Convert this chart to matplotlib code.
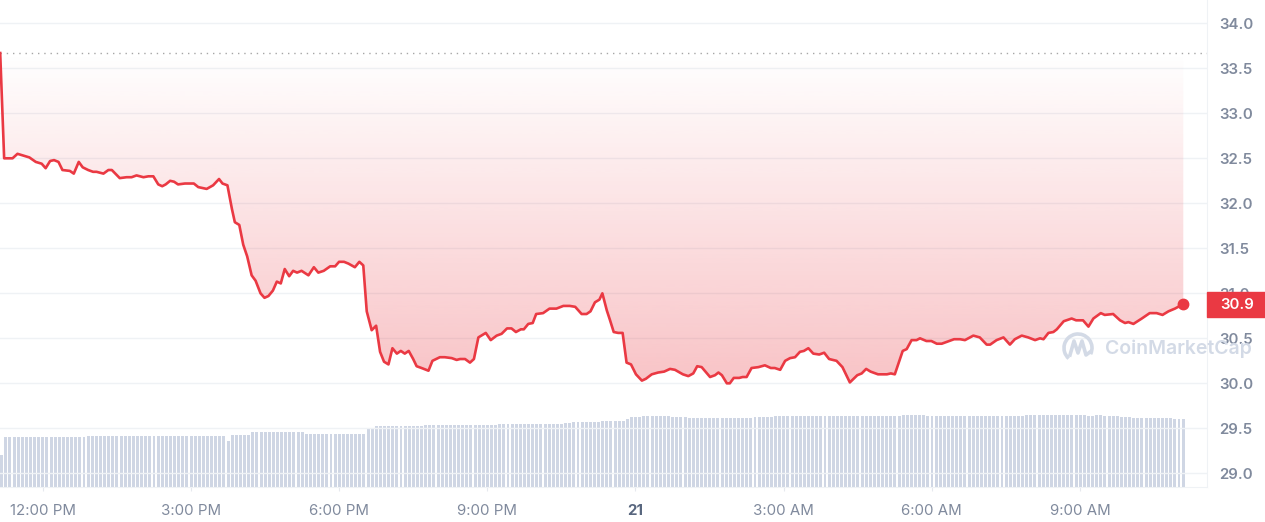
import numpy as np
import matplotlib.pyplot as plt
from matplotlib.patches import Rectangle, Arc
from matplotlib.transforms import blended_transform_factory

plt.rcParams['font.family'] = ['Inter', 'DejaVu Sans']

# price, hours after 12:00 PM on the 20th
hours = [-0.86, -0.78, -0.61, -0.51, -0.39, -0.27, -0.14, -0.02, 0.06, 0.15,
         0.23, 0.32, 0.40, 0.55, 0.63, 0.73, 0.81, 0.92, 1.02, 1.09,
         1.23, 1.33, 1.40, 1.56, 1.70, 1.80, 1.90, 2.04, 2.14, 2.24,
         2.34, 2.42, 2.49, 2.58, 2.66, 2.74, 2.88, 2.98, 3.06, 3.15,
         3.32, 3.45, 3.57, 3.64, 3.74, 3.83, 3.89, 3.98, 4.06, 4.14,
         4.23, 4.31, 4.41, 4.49, 4.57, 4.66, 4.74, 4.82, 4.90, 4.99,
         5.07, 5.15, 5.24, 5.38, 5.49, 5.58, 5.69, 5.82, 5.92, 6.00,
         6.10, 6.19, 6.32, 6.41, 6.49, 6.56, 6.66, 6.75, 6.83, 6.91,
         7.00, 7.08, 7.17, 7.25, 7.33, 7.41, 7.50, 7.57, 7.67, 7.81,
         7.89, 8.04, 8.14, 8.28, 8.38, 8.45, 8.55, 8.65, 8.73, 8.82,
         8.97, 9.07, 9.19, 9.29, 9.40, 9.49, 9.58, 9.68, 9.74, 9.83,
         9.92, 9.99, 10.13, 10.26, 10.40, 10.54, 10.67, 10.78, 10.91, 11.01,
         11.09, 11.18, 11.27, 11.33, 11.42, 11.48, 11.56, 11.65, 11.74, 11.82,
         11.91, 12.01, 12.13, 12.21, 12.33, 12.46, 12.58, 12.70, 12.80, 12.96,
         13.07, 13.17, 13.25, 13.34, 13.51, 13.61, 13.68, 13.75, 13.85, 13.91,
         13.99, 14.10, 14.17, 14.25, 14.35, 14.49, 14.62, 14.74, 14.82, 14.93,
         15.03, 15.13, 15.23, 15.33, 15.41, 15.50, 15.60, 15.72, 15.82, 15.92,
         16.07, 16.19, 16.34, 16.49, 16.58, 16.67, 16.76, 16.91, 17.09, 17.17,
         17.25, 17.41, 17.49, 17.59, 17.69, 17.76, 17.89, 17.99, 18.10, 18.20,
         18.30, 18.45, 18.57, 18.67, 18.84, 18.97, 19.11, 19.18, 19.31, 19.45,
         19.58, 19.68, 19.82, 19.95, 20.09, 20.19, 20.26, 20.36, 20.46, 20.53,
         20.67, 20.83, 20.92, 21.06, 21.17, 21.27, 21.42, 21.50, 21.67, 21.81,
         21.91, 21.98, 22.08, 22.25, 22.41, 22.55, 22.67, 22.79, 22.92, 23.09]
price = [33.67, 32.50, 32.50, 32.55, 32.53, 32.51, 32.46, 32.44, 32.39, 32.47,
         32.48, 32.46, 32.37, 32.36, 32.33, 32.46, 32.40, 32.37, 32.35, 32.35,
         32.33, 32.37, 32.37, 32.28, 32.29, 32.29, 32.31, 32.29, 32.30, 32.30,
         32.21, 32.19, 32.21, 32.25, 32.24, 32.21, 32.22, 32.22, 32.22, 32.18,
         32.16, 32.20, 32.27, 32.22, 32.20, 31.94, 31.79, 31.76, 31.54, 31.41,
         31.20, 31.14, 31.00, 30.95, 30.97, 31.03, 31.13, 31.11, 31.27, 31.19,
         31.25, 31.23, 31.25, 31.20, 31.29, 31.23, 31.25, 31.30, 31.30, 31.35,
         31.35, 31.33, 31.29, 31.35, 31.31, 30.80, 30.59, 30.64, 30.35, 30.24,
         30.21, 30.39, 30.33, 30.36, 30.33, 30.36, 30.27, 30.19, 30.17, 30.14,
         30.25, 30.29, 30.29, 30.28, 30.26, 30.27, 30.27, 30.23, 30.27, 30.51,
         30.56, 30.48, 30.53, 30.55, 30.61, 30.61, 30.57, 30.60, 30.60, 30.66,
         30.67, 30.77, 30.78, 30.83, 30.83, 30.86, 30.86, 30.85, 30.77, 30.77,
         30.80, 30.90, 30.93, 31.00, 30.81, 30.71, 30.57, 30.56, 30.56, 30.23,
         30.21, 30.10, 30.03, 30.05, 30.10, 30.12, 30.13, 30.16, 30.15, 30.10,
         30.08, 30.11, 30.19, 30.18, 30.07, 30.09, 30.12, 30.09, 30.00, 30.00,
         30.06, 30.06, 30.07, 30.07, 30.17, 30.18, 30.20, 30.17, 30.17, 30.15,
         30.25, 30.28, 30.29, 30.35, 30.36, 30.39, 30.33, 30.32, 30.34, 30.27,
         30.25, 30.18, 30.01, 30.09, 30.11, 30.16, 30.13, 30.10, 30.10, 30.11,
         30.10, 30.36, 30.38, 30.48, 30.48, 30.50, 30.47, 30.47, 30.44, 30.44,
         30.46, 30.49, 30.49, 30.48, 30.53, 30.51, 30.43, 30.43, 30.48, 30.51,
         30.43, 30.49, 30.53, 30.51, 30.48, 30.50, 30.49, 30.56, 30.57, 30.60,
         30.69, 30.72, 30.70, 30.70, 30.63, 30.72, 30.78, 30.76, 30.77, 30.70,
         30.67, 30.68, 30.66, 30.72, 30.78, 30.78, 30.76, 30.80, 30.83, 30.88]
open_price = 33.67
last_label = "30.9"

# volume per 5 min bar (relative units), as (value, number of bars)
volume_runs = [(6.4, 1), (10.0, 20), (10.2, 34), (9.2, 1), (10.5, 5), (11.0, 13),
               (10.7, 15), (11.8, 2), (12.2, 12), (12.4, 18), (12.7, 16),
               (12.8, 2), (13.0, 7), (13.3, 6), (13.7, 1), (14.0, 3), (14.2, 7),
               (14.0, 4), (13.8, 16), (14.0, 5), (14.2, 31), (14.4, 6), (14.2, 24),
               (14.5, 15), (14.2, 2), (14.4, 2), (14.2, 4), (14.0, 3), (13.8, 10),
               (13.6, 3)]
volume = []
for v, n in volume_runs:
    volume += [v] * n

tick_hours = [0, 3, 6, 9, 12, 15, 18, 21]
tick_labels = ["12:00 PM", "3:00 PM", "6:00 PM", "9:00 PM", "21", "3:00 AM", "6:00 AM", "9:00 AM"]
y_ticks = [29.0, 29.5, 30.0, 30.5, 31.0, 31.5, 32.0, 32.5, 33.0, 33.5, 34.0]

red = '#ea3943'
grey_txt = '#808a9d'
grid_c = '#eff2f5'

fig = plt.figure(figsize=(12.65, 5.22), dpi=100)
ax = fig.add_axes([0, 35 / 522, 1207 / 1265, 487 / 522])

# volume bars underneath
vax = ax.twinx()
bar_t = hours[0] + np.arange(len(volume)) / 12
vax.bar(bar_t, volume, width=0.06, align='edge', color='#cfd6e4', linewidth=0)
vax.set_ylim(0, 97.4)
vax.set_yticks([])
for s in vax.spines.values():
    s.set_visible(False)
vax.set_zorder(ax.get_zorder() - 1)
ax.patch.set_visible(False)

# gradient fill between line and open price
poly = ax.fill_between(hours, price, open_price, color='none', linewidth=0)
grad = np.zeros((256, 1, 4))
grad[:, 0, 0:3] = np.array([234, 57, 67]) / 255
grad[:, 0, 3] = np.linspace(0.31, 0.0, 256)
img = ax.imshow(grad, extent=[hours[0], hours[-1], 29.9, open_price], origin='lower',
                aspect='auto', interpolation='bicubic', zorder=1)
img.set_clip_path(poly.get_paths()[0], transform=ax.transData)

ax.axhline(open_price, color='#a6a6a6', lw=1, ls=(0, (1, 3.5)), zorder=2)
ax.plot(hours, price, color=red, lw=1.9, zorder=4, solid_joinstyle='round')
ax.plot(hours[-1], price[-1], 'o', color=red, ms=7.5, zorder=5)

ax.set_xlim(-0.864, 23.57)
ax.set_ylim(28.848, 34.259)

ax.yaxis.tick_right()
ax.set_yticks(y_ticks)
ax.set_yticklabels([f"{t:.1f}" for t in y_ticks])
ax.tick_params(axis='y', length=0, pad=9.0, labelsize=10.8, labelcolor=grey_txt)
for lab in ax.get_yticklabels():
    lab.set_fontweight('semibold')
ax.grid(axis='y', color=grid_c, lw=1, zorder=0)
ax.set_axisbelow(True)

ax.set_xticks(tick_hours)
ax.set_xticklabels(tick_labels)
ax.tick_params(axis='x', length=3, color='#e6e9ee', pad=9, labelsize=10.8, labelcolor=grey_txt)
for lab in ax.get_xticklabels():
    if lab.get_text() == "21":
        lab.set_fontweight('bold')
        lab.set_color('#58667e')

for side in ['top', 'left']:
    ax.spines[side].set_visible(False)
ax.spines['right'].set_color(grid_c)
ax.spines['bottom'].set_color(grid_c)

# price tag on the right
tr = blended_transform_factory(ax.transAxes, ax.transData)
ax.add_patch(Rectangle((1.0, price[-1] - 0.14), 58 / 1207, 0.28, transform=tr,
                       color=red, clip_on=False, zorder=6))
ax.text(1.0 + 13 / 1207, price[-1] - 0.005, last_label, transform=tr, color='white',
        fontsize=10.8, fontweight='semibold', va='center', ha='left', zorder=7)

# watermark
fig.text(1105 / 1265, 1 - 349 / 522, "CoinMarketCap", color='#d3dae6', fontsize=14,
         fontweight='semibold', va='center', ha='left', zorder=3)
fig.patches.append(Arc((1078 / 1265, 1 - 348 / 522), 28 / 1265, 28 / 522, theta1=-50, theta2=250,
                       transform=fig.transFigure, color='#d3dae6', lw=2.6))
fig.lines.append(plt.Line2D([1070 / 1265, 1074 / 1265, 1078 / 1265, 1082 / 1265, 1086 / 1265, 1090 / 1265],
                            [1 - 355 / 522, 1 - 341 / 522, 1 - 353 / 522, 1 - 341 / 522, 1 - 355 / 522, 1 - 352 / 522],
                            transform=fig.transFigure, color='#d3dae6', lw=2.6))

fig.savefig('out.png', dpi=100)
